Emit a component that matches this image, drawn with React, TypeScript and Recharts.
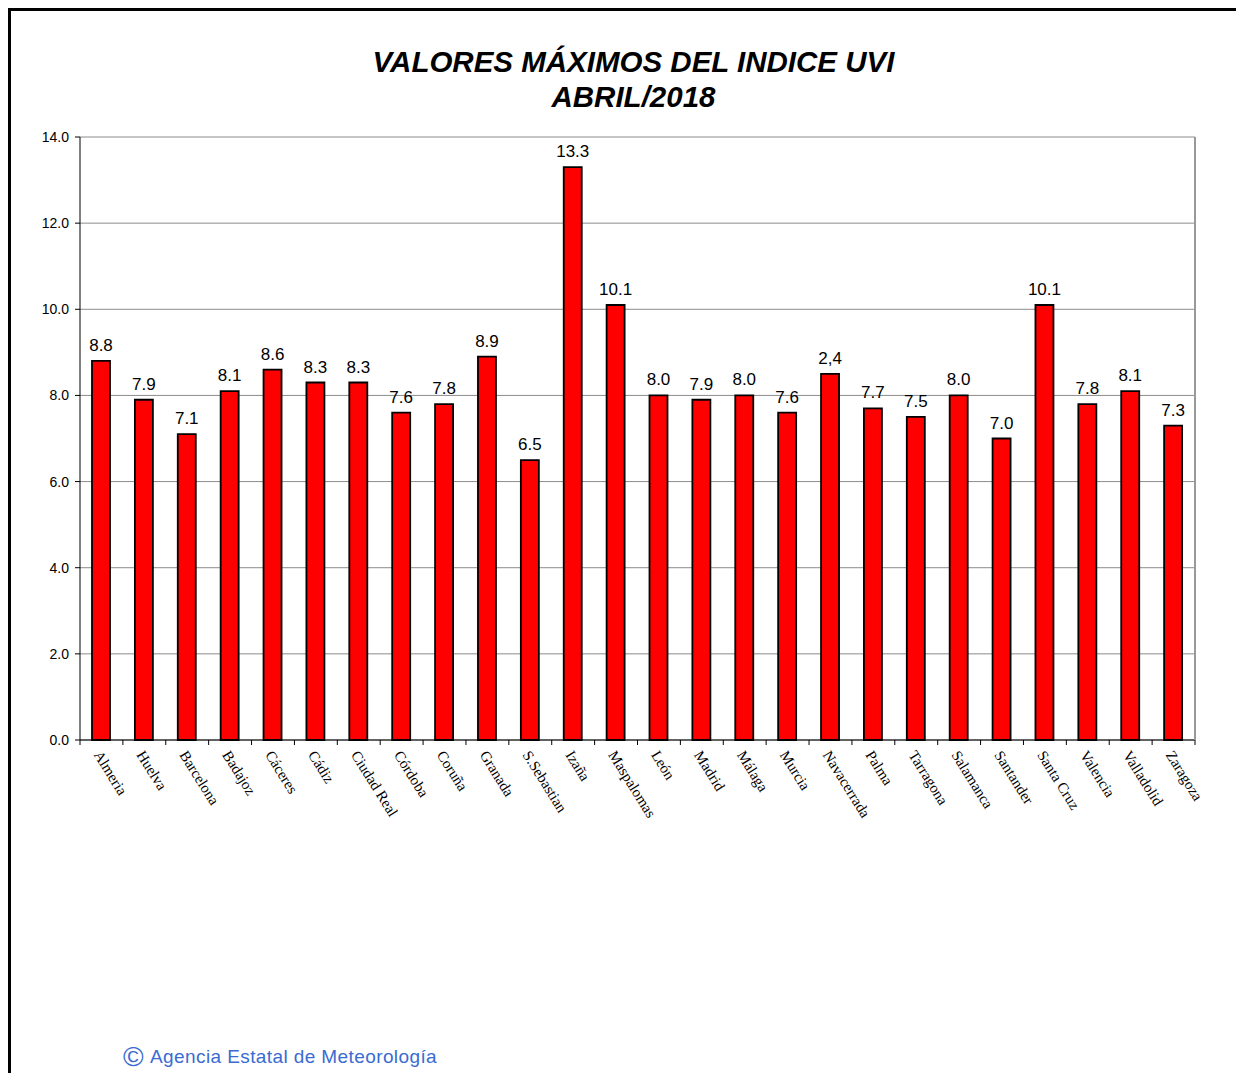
import { Bar, BarChart, CartesianGrid, LabelList, XAxis, YAxis } from 'recharts';

const cities = [
  'Almeria', 'Huelva', 'Barcelona', 'Badajoz', 'Cáceres', 'Cádiz', 'Ciudad Real',
  'Córdoba', 'Coruña', 'Granada', 'S.Sebastian', 'Izaña', 'Maspalomas', 'León',
  'Madrid', 'Málaga', 'Murcia', 'Navacerrada', 'Palma', 'Tarragona', 'Salamanca',
  'Santander', 'Santa Cruz', 'Valencia', 'Valladolid', 'Zaragoza',
];

const uviMax = [
  8.8, 7.9, 7.1, 8.1, 8.6, 8.3, 8.3, 7.6, 7.8, 8.9, 6.5, 13.3, 10.1, 8.0,
  7.9, 8.0, 7.6, 8.5, 7.7, 7.5, 8.0, 7.0, 10.1, 7.8, 8.1, 7.3,
];

// the printed labels (Navacerrada really shows "2,4" on the original)
const barLabels = [
  '8.8', '7.9', '7.1', '8.1', '8.6', '8.3', '8.3', '7.6', '7.8', '8.9', '6.5', '13.3', '10.1', '8.0',
  '7.9', '8.0', '7.6', '2,4', '7.7', '7.5', '8.0', '7.0', '10.1', '7.8', '8.1', '7.3',
];

const yTicks = [0, 2, 4, 6, 8, 10, 12, 14];

const CHART_W = 1230;
const CHART_H = 880;
const MARGIN = { top: 126, right: 45, left: 19, bottom: 51 };
const Y_AXIS_W = 50;
const RIGHT_AXIS_W = 1;
const plotW = CHART_W - MARGIN.left - MARGIN.right - Y_AXIS_W - RIGHT_AXIS_W;
const halfBand = plotW / cities.length / 2;

const data = cities.map((name, i) => ({ name, value: uviMax[i], label: barLabels[i] }));

function CityTick(props: any) {
  const { x, y, payload, index } = props;
  const last = index === cities.length - 1;
  const tx = x - 4;
  const ty = y + 4;
  return (
    <g>
      <line x1={x - halfBand} y1={y - 8} x2={x - halfBand} y2={y - 3} stroke="#000" />
      {last && <line x1={x + halfBand} y1={y - 8} x2={x + halfBand} y2={y - 3} stroke="#000" />}
      <text
        x={tx}
        y={ty}
        transform={`rotate(58, ${tx}, ${ty})`}
        textAnchor="start"
        dominantBaseline="central"
        fontFamily="'Liberation Serif', 'Times New Roman', serif"
        fontSize={15}
        fill="#000"
      >
        {payload.value}
      </text>
    </g>
  );
}

export default function App() {
  return (
    <div
      style={{
        position: 'relative',
        width: 1240,
        height: 1075,
        borderTop: '3px solid #000',
        borderLeft: '3px solid #000',
        background: '#fff',
      }}
    >
      <div
        style={{
          position: 'absolute',
          left: 0,
          width: 1245,
          top: 33,
          textAlign: 'center',
          fontFamily: "'Liberation Sans', Arial, sans-serif",
          fontWeight: 'bold',
          fontStyle: 'italic',
          fontSize: 29.5,
          lineHeight: '35px',
          color: '#000',
        }}
      >
        VALORES MÁXIMOS DEL INDICE UVI
        <br />
        ABRIL/2018
      </div>
      <div style={{ position: 'absolute', left: 0, top: 0 }}>
        <BarChart width={CHART_W} height={CHART_H} data={data} margin={MARGIN}>
          <CartesianGrid yAxisId="left" vertical={false} stroke="#8c8c8c" />
          <XAxis
            dataKey="name"
            interval={0}
            height={100}
            tickSize={6}
            tickMargin={2}
            tickLine={false}
            axisLine={{ stroke: '#000' }}
            tick={<CityTick />}
          />
          <YAxis
            yAxisId="left"
            width={Y_AXIS_W}
            domain={[0, 14]}
            ticks={yTicks}
            interval={0}
            tickFormatter={(v: number) => v.toFixed(1)}
            tick={{ fill: '#000', fontSize: 14, fontFamily: "'Liberation Sans', Arial, sans-serif" }}
            tickSize={5}
            tickMargin={6}
            axisLine={{ stroke: '#000' }}
            tickLine={{ stroke: '#000' }}
          />
          <YAxis
            yAxisId="right"
            orientation="right"
            width={RIGHT_AXIS_W}
            domain={[0, 14]}
            tick={false}
            tickLine={false}
            axisLine={{ stroke: '#999', strokeWidth: 2 }}
          />
          <Bar
            yAxisId="left"
            dataKey="value"
            fill="#ff0000"
            stroke="#000"
            strokeWidth={1.8}
            barSize={18}
            isAnimationActive={false}
          >
            <LabelList
              dataKey="label"
              position="top"
              offset={10}
              fill="#000"
              fontSize={17}
              fontFamily="'Liberation Sans', Arial, sans-serif"
            />
          </Bar>
        </BarChart>
      </div>
      <div
        style={{
          position: 'absolute',
          left: 112,
          top: 1032,
          height: 28,
          display: 'flex',
          alignItems: 'center',
          fontFamily: "'Liberation Sans', Arial, sans-serif",
          fontSize: 19,
          letterSpacing: 0.4,
          lineHeight: '28px',
          color: '#3a6bd1',
          whiteSpace: 'nowrap',
        }}
      >
        <span style={{ fontSize: 28, marginRight: 6, lineHeight: '28px' }}>©</span>
        <span>Agencia Estatal de Meteorología</span>
      </div>
    </div>
  );
}
